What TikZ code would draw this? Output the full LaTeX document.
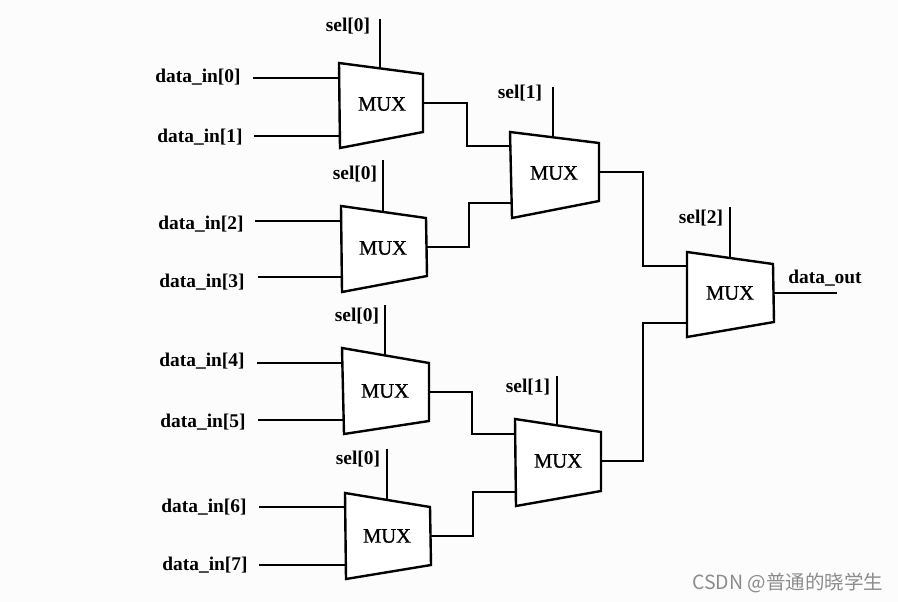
\documentclass[tikz,border=0pt]{standalone}
\usepackage{fontspec}
\setmainfont{Liberation Serif}
\newfontfamily\lblfont{Liberation Serif}
\newfontfamily\muxfont[FakeBold=1]{Liberation Serif}
\newfontfamily\cjkfont{Noto Sans CJK SC}
\newcommand{\muxblock}[8]{%
  % name, top-left, top-right, bottom-right, bottom-left, text centre, in0, in1 (out is set separately)
  \coordinate (#1tl) at (#2); \coordinate (#1tr) at (#3);
  \coordinate (#1br) at (#4); \coordinate (#1bl) at (#5);
  \coordinate (#1a) at (#7); \coordinate (#1b) at (#8);
  \draw[muxbox] (#1tl) -- (#1tr) -- (#1br) -- (#1bl) -- cycle;
  \node[muxtext] (#1) at (#6) {MUX};
}
\tikzset{
  muxbox/.style={draw=black,line width=2.4pt,line join=miter,fill=white},
  muxtext/.style={font=\muxfont\fontsize{20.5}{22}\selectfont,text=black,inner sep=0pt},
  lbl/.style={font=\lblfont\bfseries\fontsize{19.4}{22}\selectfont,text=black,inner sep=0pt},
  wire/.style={draw=black,line width=2.4pt,line join=miter},
  thinwire/.style={draw=black,line width=2pt},
}
\begin{document}
\begin{tikzpicture}[x=1pt,y=-1pt]
\fill[white!99!black] (0,0) rectangle (898,602);
\useasboundingbox (0,0) rectangle (898,602);

% multiplexers
\muxblock{ma}{339,63}{423,74}{423,132}{340,148}{382,104}{339,78}{339,136}
\muxblock{mb}{341,206}{426,218}{427,276}{342,292}{383,248}{341,221}{342,277}
\muxblock{mc}{510,132}{599,143}{599,201}{512,218}{554,173}{510,146}{511,203}
\muxblock{md}{342,348}{429,363}{429,421}{344,434}{385,391}{342,363}{344,420}
\muxblock{me}{345,493}{430,507}{431,565}{346,579}{387,536}{345,507}{346,565}
\muxblock{mf}{515,419}{601,432}{601,491}{516,506}{558,461}{515,434}{516,492}
\muxblock{mg}{687,252}{773,264}{774,322}{687,337}{730,293}{687,266}{687,323}

% outputs
\coordinate (mao) at (423,103);
\coordinate (mbo) at (427,247);
\coordinate (mco) at (599,172);
\coordinate (mdo) at (429,392);
\coordinate (meo) at (431,536);
\coordinate (mfo) at (601,461);
\coordinate (mgo) at (774,293);

% data inputs
\node[lbl] (d0) at (198,77) {data\_in[0]};
\node[lbl] (d1) at (200,137) {data\_in[1]};
\node[lbl] (d2) at (201,224) {data\_in[2]};
\node[lbl] (d3) at (202,282) {data\_in[3]};
\node[lbl] (d4) at (202,361) {data\_in[4]};
\node[lbl] (d5) at (203,422) {data\_in[5]};
\node[lbl] (d6) at (204,507) {data\_in[6]};
\node[lbl] (d7) at (205,565) {data\_in[7]};
\coordinate (s0) at (253,78);
\coordinate (s1) at (254,136);
\coordinate (s2) at (255,221);
\coordinate (s3) at (258,277);
\coordinate (s4) at (257,363);
\coordinate (s5) at (258,420);
\coordinate (s6) at (259,507);
\coordinate (s7) at (259,565);
\draw[wire] (s0) -- (maa);
\draw[wire] (s1) -- (mab);
\draw[wire] (s2) -- (mba);
\draw[wire] (s3) -- (mbb);
\draw[wire] (s4) -- (mda);
\draw[wire] (s5) -- (mdb);
\draw[wire] (s6) -- (mea);
\draw[wire] (s7) -- (meb);

% select lines
\node[lbl] (la) at (348,26) {sel[0]};
\node[lbl] (lb) at (355,174) {sel[0]};
\node[lbl] (lc) at (520,93) {sel[1]};
\node[lbl] (ld) at (357,316) {sel[0]};
\node[lbl] (le) at (358,459) {sel[0]};
\node[lbl] (lf) at (528,387) {sel[1]};
\node[lbl] (lg) at (701,218) {sel[2]};
\coordinate (sa) at (380,19); \coordinate (ta) at (380,68);
\coordinate (sb) at (383,160); \coordinate (tb) at (383,211);
\coordinate (sc) at (553,87); \coordinate (tc) at (553,137);
\coordinate (sd) at (385,305); \coordinate (td) at (385,355);
\coordinate (se) at (387,449); \coordinate (te) at (387,499);
\coordinate (sf) at (557,376); \coordinate (tf) at (557,425);
\coordinate (sg) at (730,207); \coordinate (tg) at (730,257);
\draw[thinwire] (sa) -- (ta);
\draw[thinwire] (sb) -- (tb);
\draw[thinwire] (sc) -- (tc);
\draw[thinwire] (sd) -- (td);
\draw[thinwire] (se) -- (te);
\draw[thinwire] (sf) -- (tf);
\draw[thinwire] (sg) -- (tg);

% connections between stages
\coordinate (jac) at (467,146);
\coordinate (jbc) at (469,203);
\coordinate (jdf) at (472,434);
\coordinate (jef) at (473,492);
\coordinate (jcg) at (643,266);
\coordinate (jfg) at (643,323);
\draw[wire] (mao) -| (jac) -- (mca);
\draw[wire] (mbo) -| (jbc) -- (mcb);
\draw[wire] (mdo) -| (jdf) -- (mfa);
\draw[wire] (meo) -| (jef) -- (mfb);
\draw[wire] (mco) -| (jcg) -- (mga);
\draw[wire] (mfo) -| (jfg) -- (mgb);

% output
\node[lbl] (dout) at (825,278) {data\_out};
\coordinate (oend) at (837,293);
\draw[wire] (mgo) -- (oend);

% watermark
\node[inner sep=0pt,text=black!45,anchor=west] (wm) at (692,583)
  {\fontsize{19.5}{21}\selectfont\cjkfont CSDN @普通的晓学生};
\end{tikzpicture}
\end{document}
